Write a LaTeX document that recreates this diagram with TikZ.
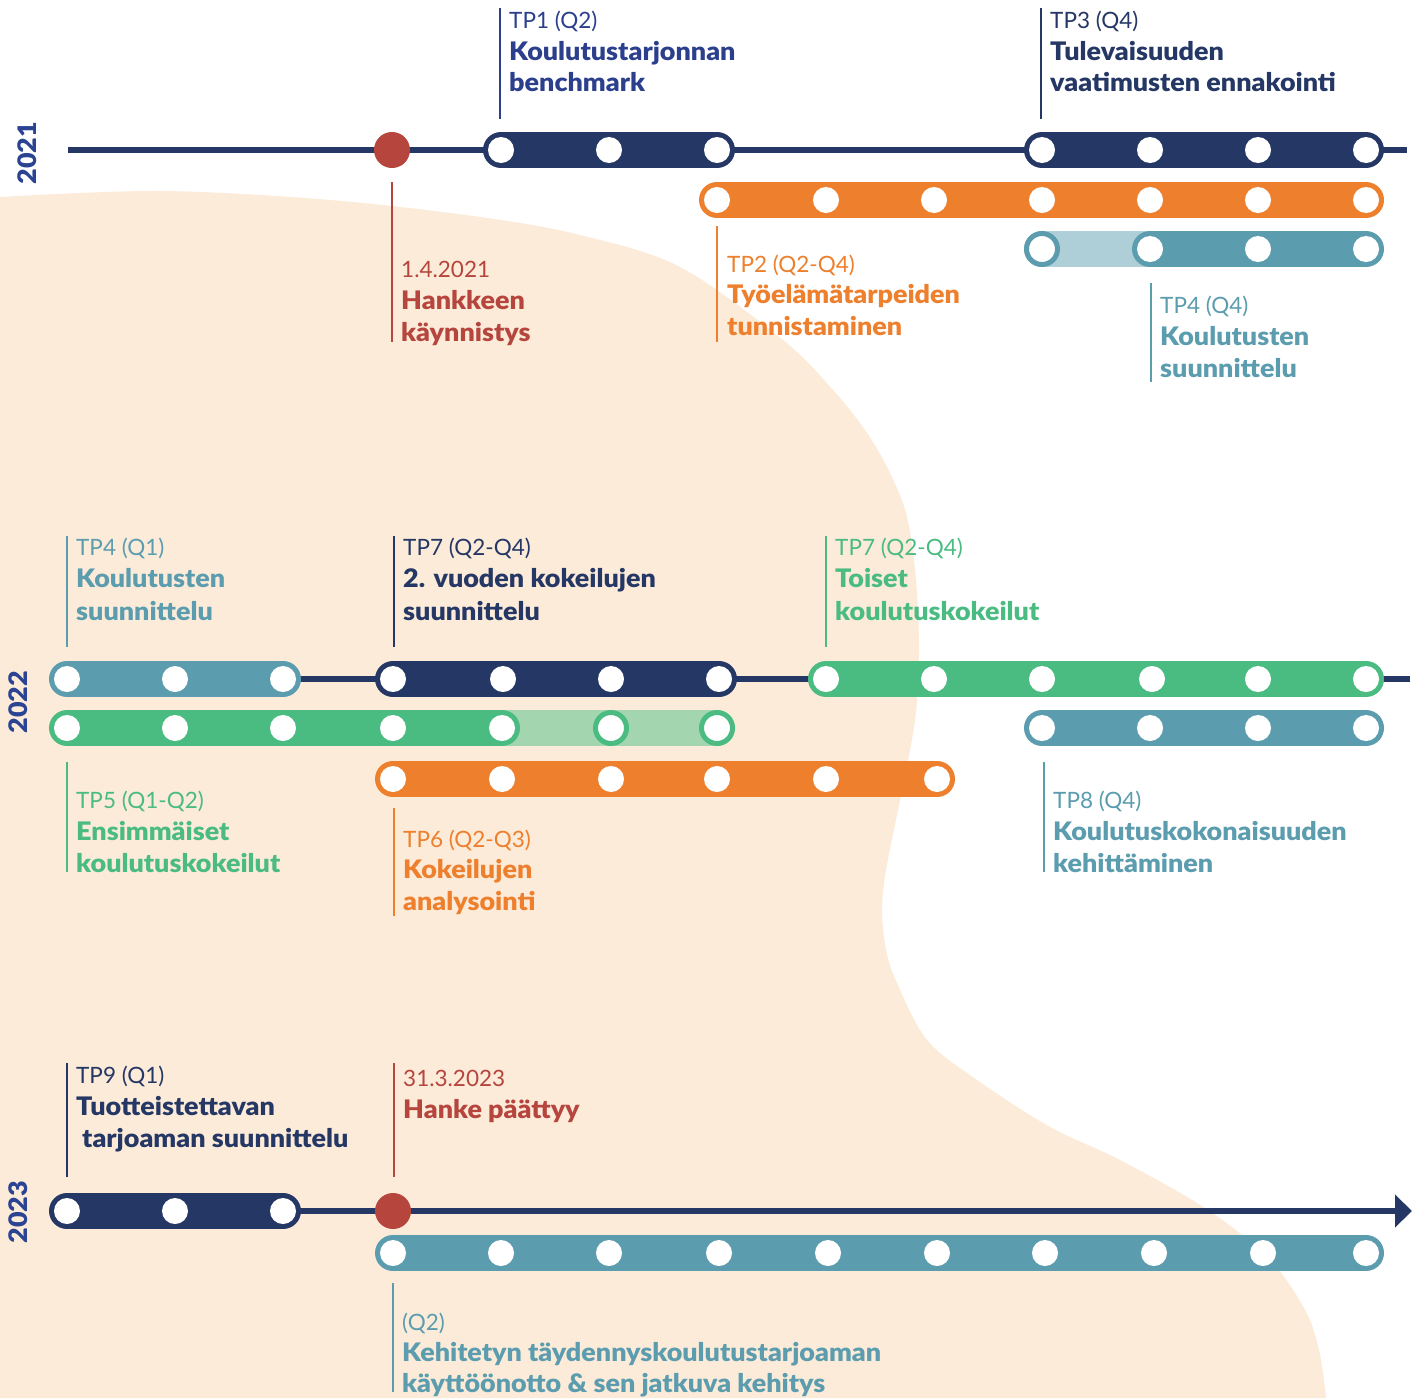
\documentclass[tikz,border=0pt]{standalone}
\usepackage{fontspec}
\setmainfont{Lato}[BoldFont={Lato Black}, BoldFeatures={FakeStretch=1.055}]
\usetikzlibrary{arrows.meta}
\definecolor{navy}{HTML}{253764}
\definecolor{yearblue}{HTML}{2A4393}
\definecolor{tpblue}{HTML}{2B3F8D}
\definecolor{mred}{HTML}{B5453D}
\definecolor{orng}{HTML}{EE7F2D}
\definecolor{teal}{HTML}{5B9DAF}
\definecolor{lteal}{HTML}{AECFD8}
\definecolor{grn}{HTML}{4ABC82}
\definecolor{lgrn}{HTML}{A3D5AE}
\definecolor{beige}{HTML}{FCEBD9}
\tikzset{
  tl/.style={navy, line width=5.3pt},
  capsule/.style={line width=36pt, line cap=round},
  wdot/.style={circle, fill=white, minimum size=26pt, inner sep=0pt},
  ringdot/.style={circle, fill=white, line width=5pt, minimum size=31pt, inner sep=0pt},
  mile/.style={circle, fill=mred, minimum size=36pt, inner sep=0pt},
  lline/.style={line width=2.4pt},
  lbl/.style={anchor=base west, inner sep=0pt, font=\fontsize{22.5}{28}\selectfont},
  ttl/.style={anchor=base west, inner sep=0pt, font=\fontsize{25.5}{28}\selectfont\bfseries},
  year/.style={inner sep=0pt, text=yearblue, font=\fontsize{25.5}{30}\selectfont\bfseries, rotate=90},
}
\newcommand\tlbar[4]{\draw[capsule, #1] (#3,#2) -- (#4,#2);}
\newcommand\tldots[2]{\foreach \xx in {#2} {\node[wdot] (d\xx-#1) at (\xx,#1) {};}}
\begin{document}
\begin{tikzpicture}[x=1pt,y=-1pt]
\useasboundingbox (0,0) rectangle (1421,1398);
\fill[white] (0,0) rectangle (1421,1398);
% background blob
\fill[beige] plot[smooth,tension=0.55] coordinates {(0,197) (160,191) (330,200) (480,217) (580,235) (680,267) (783,340) (833,390) (867,433) (890,473) (907,517) (916,580) (919,653) (915,720) (900,800) (886,870) (882,910) (886,950) (897,983) (927,1040) (977,1080) (1050,1127) (1120,1160) (1208,1210) (1270,1260) (1305,1310) (1319,1350) (1326,1398)} -- (0,1398) -- cycle;

% timelines
\coordinate (l1a) at (68,150); \coordinate (l1b) at (1407,150);
\coordinate (l2a) at (68,679); \coordinate (l2b) at (1410,679);
\coordinate (l3a) at (68,1211); \coordinate (l3b) at (1412,1211);
\draw[tl] (l1a) -- (l1b);
\draw[tl] (l2a) -- (l2b);
\draw[tl, -{Triangle[length=17pt,width=32pt]}] (l3a) -- (l3b);

% years
\node[year] (y2021) at (27,153) {2021};
\node[year] (y2022) at (18,702) {2022};
\node[year] (y2023) at (18,1212) {2023};

% ---- 2021 ----
\node[mile] (start) at (392,150) {};
\tlbar{navy}{150}{501}{717}
\tldots{150}{501,609,717}
\tlbar{navy}{150}{1042}{1366}
\tldots{150}{1042,1150,1258,1366}
\tlbar{orng}{200}{717}{1366}
\tldots{200}{717,826,934,1042,1150,1258,1366}
\tlbar{lteal}{249}{1042}{1150}
\tlbar{teal}{249}{1150}{1366}
\node[ringdot, draw=teal] (r1042) at (1042,249) {};
\tldots{249}{1150,1258,1366}

% ---- 2022 ----
\tlbar{teal}{679}{67}{283}
\tldots{679}{67,175,283}
\tlbar{navy}{679}{393}{719}
\tldots{679}{393,503,611,719}
\tlbar{grn}{679}{826}{1366}
\tldots{679}{826,934,1042,1152,1258,1366}
\tlbar{lgrn}{728}{502}{717}
\tlbar{grn}{728}{67}{502}
\tldots{728}{67,175,283,393,502}
\node[ringdot, draw=grn] (r611) at (611,728) {};
\node[ringdot, draw=grn] (r717) at (717,728) {};
\tlbar{teal}{728}{1042}{1366}
\tldots{728}{1042,1150,1258,1366}
\tlbar{orng}{779}{393}{937}
\tldots{779}{393,502,611,717,826,937}

% ---- 2023 ----
\tlbar{navy}{1211}{67}{283}
\tldots{1211}{67,175,283}
\node[mile] (end) at (393,1211) {};
\tlbar{teal}{1253}{393}{1366}
\tldots{1253}{393,501,609,719,828,937,1045,1154,1263,1366}

% label lines
\draw[lline, tpblue] (500,8) -- (500,119);
\draw[lline, navy] (1041,8) -- (1041,119);
\draw[lline, mred] (392,182) -- (392,342);
\draw[lline, orng] (717,226) -- (717,342);
\draw[lline, teal] (1151,283) -- (1151,382);
\draw[lline, teal] (67,536) -- (67,647);
\draw[lline, navy] (394,536) -- (394,647);
\draw[lline, grn] (826,536) -- (826,647);
\draw[lline, grn] (67,762) -- (67,872);
\draw[lline, orng] (394,808) -- (394,916);
\draw[lline, teal] (1044,762) -- (1044,872);
\draw[lline, navy] (67,1063) -- (67,1177);
\draw[lline, mred] (394,1063) -- (394,1177);
\draw[lline, teal] (393,1283) -- (393,1392);

% texts 2021
\node[lbl, text=tpblue] (t1a) at (509,28) {TP1 (Q2)};
\node[ttl, text=tpblue] (t1b) at (509,60) {Koulutustarjonnan};
\node[ttl, text=tpblue] (t1c) at (509,91) {benchmark};
\node[lbl, text=navy] (t3a) at (1050,28) {TP3 (Q4)};
\node[ttl, text=navy] (t3b) at (1050,60) {Tulevaisuuden};
\node[ttl, text=navy] (t3c) at (1050,91) {vaatimusten ennakointi};
\node[lbl, text=mred] (tsa) at (401,277) {1.4.2021};
\node[ttl, text=mred] (tsb) at (401,309) {Hankkeen};
\node[ttl, text=mred] (tsc) at (401,341) {käynnistys};
\node[lbl, text=orng] (t2a) at (727,272) {TP2 (Q2-Q4)};
\node[ttl, text=orng] (t2b) at (727,303) {Työelämätarpeiden};
\node[ttl, text=orng] (t2c) at (727,335) {tunnistaminen};
\node[lbl, text=teal] (t4a) at (1160,313) {TP4 (Q4)};
\node[ttl, text=teal] (t4b) at (1160,345) {Koulutusten};
\node[ttl, text=teal] (t4c) at (1160,377) {suunnittelu};

% texts 2022
\node[lbl, text=teal] (u4a) at (76,555) {TP4 (Q1)};
\node[ttl, text=teal] (u4b) at (76,587) {Koulutusten};
\node[ttl, text=teal] (u4c) at (76,620) {suunnittelu};
\node[lbl, text=navy] (u7a) at (403,555) {TP7 (Q2-Q4)};
\node[ttl, text=navy] (u7b) at (403,587) {2. vuoden kokeilujen};
\node[ttl, text=navy] (u7c) at (403,620) {suunnittelu};
\node[lbl, text=grn] (v7a) at (835,555) {TP7 (Q2-Q4)};
\node[ttl, text=grn] (v7b) at (835,587) {Toiset};
\node[ttl, text=grn] (v7c) at (835,620) {koulutuskokeilut};
\node[lbl, text=grn] (u5a) at (76,808) {TP5 (Q1-Q2)};
\node[ttl, text=grn] (u5b) at (76,840) {Ensimmäiset};
\node[ttl, text=grn] (u5c) at (76,872) {koulutuskokeilut};
\node[lbl, text=orng] (u6a) at (403,847) {TP6 (Q2-Q3)};
\node[ttl, text=orng] (u6b) at (403,878) {Kokeilujen};
\node[ttl, text=orng] (u6c) at (403,910) {analysointi};
\node[lbl, text=teal] (u8a) at (1053,808) {TP8 (Q4)};
\node[ttl, text=teal] (u8b) at (1053,840) {Koulutuskokonaisuuden};
\node[ttl, text=teal] (u8c) at (1053,872) {kehittäminen};

% texts 2023
\node[lbl, text=navy] (w9a) at (76,1083) {TP9 (Q1)};
\node[ttl, text=navy] (w9b) at (76,1115) {Tuotteistettavan};
\node[ttl, text=navy] (w9c) at (76,1147) {\hspace{6pt}tarjoaman suunnittelu};
\node[lbl, text=mred] (wea) at (403,1086) {31.3.2023};
\node[ttl, text=mred] (web) at (403,1118) {Hanke päättyy};
\node[lbl, text=teal] (wqa) at (402,1330) {(Q2)};
\node[ttl, text=teal] (wqb) at (402,1361) {Kehitetyn täydennyskoulutustarjoaman};
\node[ttl, text=teal] (wqc) at (402,1392) {käyttöönotto \& sen jatkuva kehitys};
\end{tikzpicture}
\end{document}
